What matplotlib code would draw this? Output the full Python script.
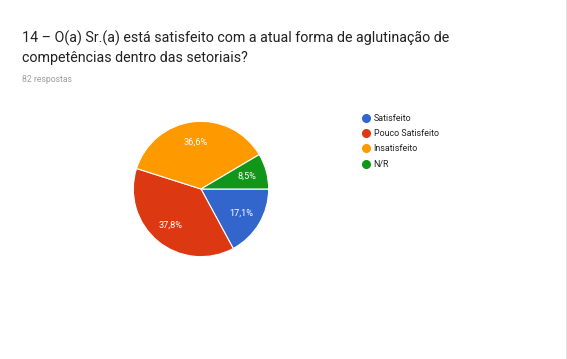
import matplotlib
matplotlib.use("Agg")
import matplotlib.pyplot as plt
from matplotlib.lines import Line2D

categories = ["Satisfeito", "Pouco Satisfeito", "Insatisfeito", "N/R"]
values = [17.1, 37.8, 36.6, 8.5]
colors = ["#3366cc", "#dc3912", "#ff9900", "#109618"]
title = "14 – O(a) Sr.(a) está satisfeito com a atual forma de aglutinação de\ncompetências dentro das setoriais?"
subtitle = "82 respostas"

plt.rcParams['font.family'] = ['Roboto', 'DejaVu Sans']

W, H = 567, 359
fig = plt.figure(figsize=(W / 100, H / 100), dpi=100)
fig.patch.set_facecolor("white")

cx, cy, r = 201, 189, 69
ax = fig.add_axes([(cx - r) / W, (H - cy - r) / H, 2 * r / W, 2 * r / H])
wedges, texts, autotexts = ax.pie(
    values, colors=colors, startangle=0, counterclock=False,
    autopct=lambda p: f"{p:.1f}%".replace(".", ","), pctdistance=0.7,
    wedgeprops=dict(edgecolor="white", linewidth=0.8),
    textprops=dict(color="white", fontsize=6.6))
ax.set_xlim(-1.02, 1.02)
ax.set_ylim(-1.02, 1.02)
ax.set_aspect("equal")
ax.axis("off")

fig.text(22 / W, 1 - 48 / H, title, fontsize=10.3, color="#212121",
         va="center", ha="left", linespacing=1.5)
fig.text(22 / W, 1 - 80 / H, subtitle, fontsize=6.2, color="#9e9e9e",
         va="center", ha="left")

handles = [Line2D([0], [0], marker="o", linestyle="none", markersize=5.5,
                  markerfacecolor=c, markeredgecolor=c) for c in colors]
leg = fig.legend(handles, categories, loc="upper left",
                 bbox_to_anchor=(362 / W, 1 - 114 / H), frameon=False,
                 fontsize=6.4, handlelength=0.8, handletextpad=0.5,
                 labelspacing=0.7, borderaxespad=0, borderpad=0)
for t in leg.get_texts():
    t.set_color("#222222")

fig.add_artist(Line2D([565.5 / W, 565.5 / W], [0, 1], color="#dddddd",
                      linewidth=0.8, transform=fig.transFigure))

fig.savefig("out.png", dpi=100, facecolor="white")
